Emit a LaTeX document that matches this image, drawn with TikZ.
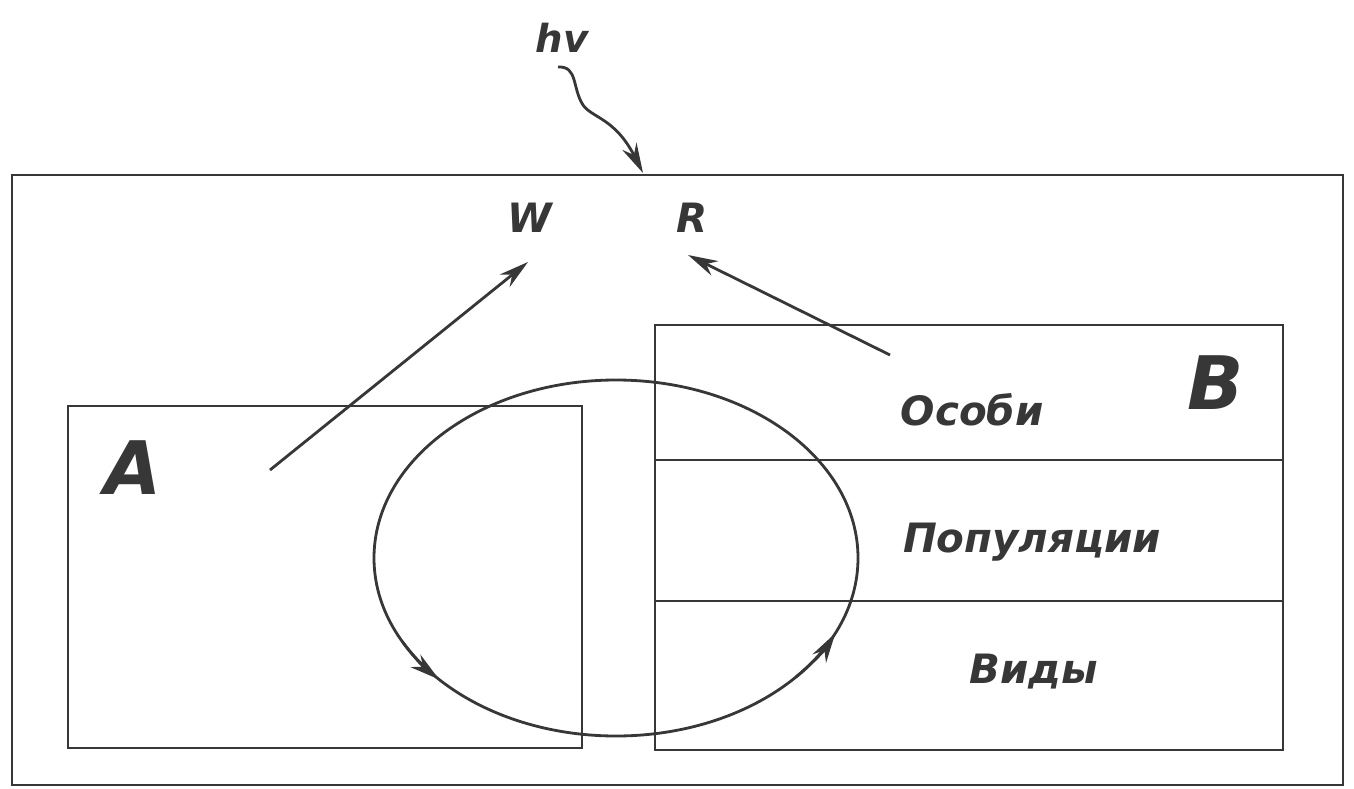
\documentclass[tikz,border=0pt]{standalone}
\usepackage{fontspec}
\setmainfont{DejaVu Sans}
\usetikzlibrary{arrows.meta}
\definecolor{ink}{RGB}{55,55,55}

\tikzset{
  letter/.style={font=\fontsize{42}{42}\selectfont\bfseries\itshape, text=ink},
  sym/.style={font=\fontsize{23}{23}\selectfont\bfseries\itshape, text=ink},
  layer/.style={font=\fontsize{23}{23}\selectfont\bfseries\itshape, text=ink}
}

\begin{document}
\begin{tikzpicture}[x=0.2mm, y=-0.2mm, >={Stealth[length=6mm,width=3.2mm]},
  line width=1.6pt, color=ink]
  \useasboundingbox (0,0) rectangle (1354,789);

  % frame and the two blocks
  \draw (12,175) rectangle (1343,785);
  \draw (68,406) rectangle (582,748);
  \draw (655,325) rectangle (1283,750);
  \foreach \yy in {460, 601}
    \draw (655,\yy) -- (1283,\yy);

  % labels
  \node[letter] (a) at (133,468) {A};
  \node[letter] (b) at (1216,383) {B};
  \node[sym] (w) at (530,218) {W};
  \node[sym] (r) at (692,218) {R};
  \node[sym, font=\fontsize{22}{22}\selectfont\bfseries\itshape] (hv) at (562,38) {hv};
  \node[layer] (osobi) at (972,410) {Особи};
  \node[layer] (popul) at (1032,542) {Популяции};
  \node[layer] (vidy) at (1034,672) {Виды};

  % cycle between A and B
  \draw (616,558) ellipse (242 and 178);
  \draw[->] (616,558) ++(152:242 and 178)
    arc[start angle=152, end angle=137, x radius=242, y radius=178];
  \draw[->] (616,558) ++(42:242 and 178)
    arc[start angle=42, end angle=25, x radius=242, y radius=178];

  % outputs W and R
  \coordinate (wfrom) at (270,470);
  \coordinate (wto) at (528,262);
  \coordinate (rfrom) at (890,355);
  \coordinate (rto) at (688,255);
  \draw[->] (wfrom) -- (wto);
  \draw[->] (rfrom) -- (rto);

  % light quantum
  \coordinate (hvfrom) at (558,67);
  \coordinate (hvto) at (643,173);
  \draw[->] (hvfrom) .. controls (578,66) and (572,88) .. (583,105)
    .. controls (592,118) and (615,118) .. (hvto);
\end{tikzpicture}
\end{document}
